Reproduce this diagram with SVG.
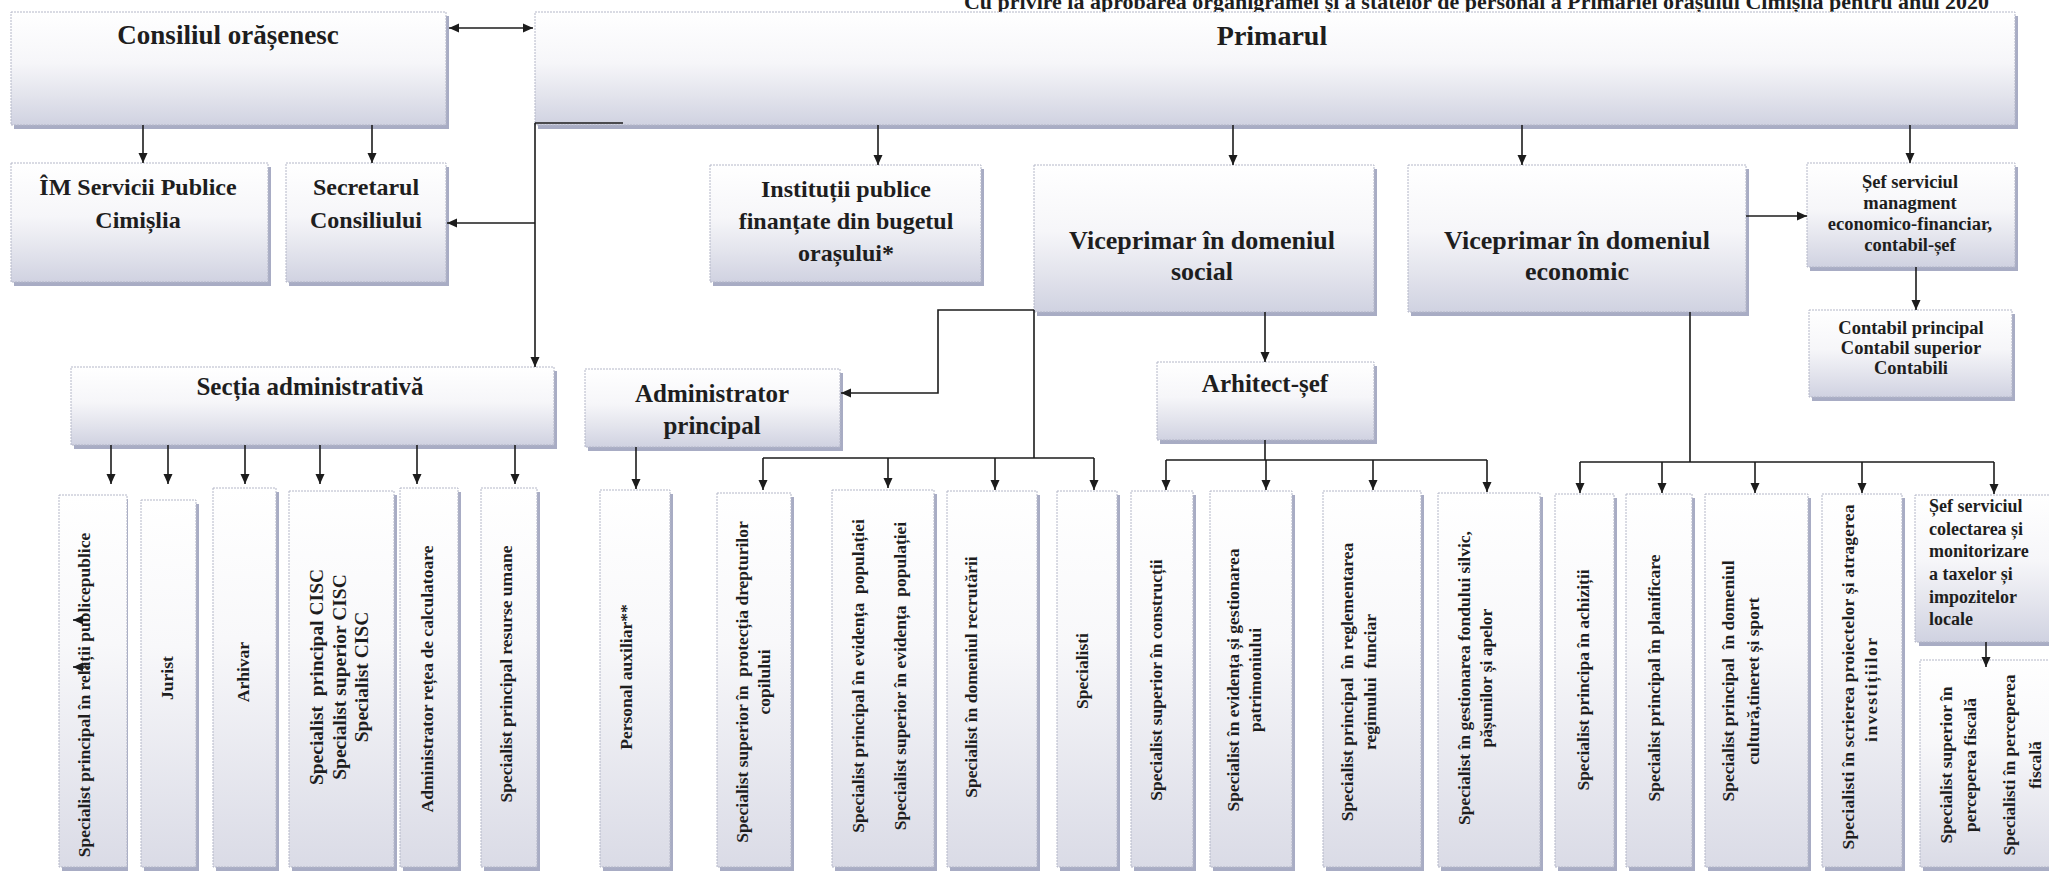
<svg xmlns="http://www.w3.org/2000/svg" width="2049" height="871" viewBox="0 0 2049 871">
<defs>
<linearGradient id="gb" x1="0" y1="0" x2="0" y2="1">
<stop offset="0" stop-color="#ffffff"/>
<stop offset="0.45" stop-color="#f6f6f9"/>
<stop offset="0.75" stop-color="#e2e3ec"/>
<stop offset="1" stop-color="#d0d2e1"/>
</linearGradient>
<linearGradient id="gt" x1="0" y1="0" x2="0" y2="1">
<stop offset="0" stop-color="#ffffff"/>
<stop offset="0.4" stop-color="#f8f8fa"/>
<stop offset="1" stop-color="#dadbe6"/>
</linearGradient>
<marker id="ah" viewBox="0 0 10 10" refX="10" refY="5" markerWidth="10" markerHeight="10" markerUnits="userSpaceOnUse" orient="auto-start-reverse">
<path d="M0,0.5 L10,5 L0,9.5 z" fill="#1c1c1c"/>
</marker>
</defs>
<style>
.box{fill:url(#gb);stroke:#b4b7c8;stroke-width:1;stroke-dasharray:2 1}
.tall{fill:url(#gt);stroke:#b4b7c8;stroke-width:1;stroke-dasharray:2 1}
.sh{fill:#a8acc4}
text{font-family:"Liberation Serif","Times New Roman",serif;font-weight:bold;fill:#1e1e1e}
.c{text-anchor:middle}
.r{font-size:17.5px;text-anchor:middle}
.l{stroke:#1c1c1c;stroke-width:1.6;fill:none}
.a{marker-end:url(#ah)}
</style>
<rect width="2049" height="871" fill="#ffffff"/>

<text id="title" x="964" y="9" font-size="21" textLength="1025" lengthAdjust="spacingAndGlyphs">Cu privire la aprobarea organigramei și a statelor de personal a Primariei orașului Cimișlia pentru anul 2020</text>

<g id="consiliul"><rect class="sh" x="14" y="16" width="435" height="113"/><rect class="box" x="11" y="12" width="435" height="113"/><text class="c" x="228" y="44" font-size="27">Consiliul orășenesc</text></g>
<g id="primarul"><rect class="sh" x="538" y="16" width="1480" height="113"/><rect class="box" x="535" y="12" width="1480" height="113"/><text class="c" x="1272" y="45" font-size="28">Primarul</text></g>
<g id="im"><rect class="sh" x="14" y="167" width="257" height="119"/><rect class="box" x="11" y="163" width="257" height="119"/><text class="c" x="138" font-size="24"><tspan x="138" y="195">ÎM Servicii Publice</tspan><tspan x="138" y="228">Cimișlia</tspan></text></g>
<g id="secretarul"><rect class="sh" x="289" y="167" width="160" height="119"/><rect class="box" x="286" y="163" width="160" height="119"/><text class="c" font-size="24"><tspan x="366" y="195">Secretarul</tspan><tspan x="366" y="228">Consiliului</tspan></text></g>
<g id="institutii"><rect class="sh" x="713" y="169" width="271" height="117"/><rect class="box" x="710" y="165" width="271" height="117"/><text class="c" font-size="24"><tspan x="846" y="197">Instituții publice</tspan><tspan x="846" y="229">finanțate din bugetul</tspan><tspan x="846" y="261">orașului*</tspan></text></g>
<g id="vice-social"><rect class="sh" x="1037" y="169" width="340" height="147"/><rect class="box" x="1034" y="165" width="340" height="147"/><text class="c" font-size="26"><tspan x="1202" y="249">Viceprimar în domeniul</tspan><tspan x="1202" y="280">social</tspan></text></g>
<g id="vice-economic"><rect class="sh" x="1411" y="169" width="338" height="147"/><rect class="box" x="1408" y="165" width="338" height="147"/><text class="c" font-size="26"><tspan x="1577" y="249">Viceprimar în domeniul</tspan><tspan x="1577" y="280">economic</tspan></text></g>
<g id="sef-economic"><rect class="sh" x="1810" y="167" width="208" height="104"/><rect class="box" x="1807" y="163" width="208" height="104"/><text class="c" font-size="18.5"><tspan x="1910" y="188">Șef serviciul</tspan><tspan x="1910" y="209">managment</tspan><tspan x="1910" y="230">economico-financiar,</tspan><tspan x="1910" y="251">contabil-șef</tspan></text></g>
<g id="contabil"><rect class="sh" x="1812" y="314" width="203" height="87"/><rect class="box" x="1809" y="310" width="203" height="87"/><text class="c" font-size="18.5"><tspan x="1911" y="334">Contabil principal</tspan><tspan x="1911" y="354">Contabil superior</tspan><tspan x="1911" y="374">Contabili</tspan></text></g>
<g id="sectia"><rect class="sh" x="74" y="371" width="483" height="78"/><rect class="box" x="71" y="367" width="483" height="78"/><text class="c" x="310" y="395" font-size="25">Secția administrativă</text></g>
<g id="administrator"><rect class="sh" x="588" y="373" width="255" height="78"/><rect class="box" x="585" y="369" width="255" height="78"/><text class="c" font-size="25"><tspan x="712" y="402">Administrator</tspan><tspan x="712" y="434">principal</tspan></text></g>
<g id="arhitect"><rect class="sh" x="1160" y="366" width="217" height="78"/><rect class="box" x="1157" y="362" width="217" height="78"/><text class="c" x="1265" y="392" font-size="25">Arhitect-șef</text></g>

<g id="relatii"><rect class="sh" x="62" y="499" width="66" height="372"/><rect class="tall" x="59" y="495" width="68" height="372"/><text class="r" transform="translate(90,695) rotate(-90)">Specialist principal în relații publicepublice</text></g>
<g id="jurist"><rect class="sh" x="144" y="504" width="55" height="367"/><rect class="tall" x="141" y="500" width="55" height="367"/><text class="r" transform="translate(173,678) rotate(-90)">Jurist</text></g>
<g id="arhivar"><rect class="sh" x="216" y="492" width="63" height="379"/><rect class="tall" x="213" y="488" width="63" height="379"/><text class="r" transform="translate(249,672) rotate(-90)">Arhivar</text></g>
<g id="cisc"><rect class="sh" x="292" y="495" width="105" height="376"/><rect class="tall" x="289" y="491" width="105" height="376"/><text class="c" font-size="19.5" transform="translate(323,677) rotate(-90)" xml:space="preserve"><tspan x="0" y="0">Specialist  principal CISC</tspan><tspan x="0" y="22.5">Specialist superior CISC</tspan><tspan x="0" y="45">Specialist CISC</tspan></text></g>
<g id="retea"><rect class="sh" x="403" y="492" width="58" height="379"/><rect class="tall" x="400" y="488" width="58" height="379"/><text class="r" transform="translate(433,679) rotate(-90)">Administrator rețea de calculatoare</text></g>
<g id="resurse"><rect class="sh" x="484" y="492" width="56" height="379"/><rect class="tall" x="481" y="488" width="56" height="379"/><text class="r" transform="translate(512,674) rotate(-90)">Specialist principal resurse umane</text></g>
<g id="personal"><rect class="sh" x="603" y="494" width="70" height="377"/><rect class="tall" x="600" y="490" width="70" height="377"/><text class="r" transform="translate(632,677) rotate(-90)">Personal auxiliar**</text></g>
<g id="protectia"><rect class="sh" x="720" y="497" width="74" height="374"/><rect class="tall" x="717" y="493" width="74" height="374"/><text class="r" transform="translate(748,682) rotate(-90)" xml:space="preserve"><tspan x="0" y="0">Specialist superior în  protecția drepturilor</tspan><tspan x="0" y="22">copilului</tspan></text></g>
<g id="evidenta"><rect class="sh" x="835" y="494" width="102" height="377"/><rect class="tall" x="832" y="490" width="102" height="377"/><text class="r" transform="translate(864,676) rotate(-90)" xml:space="preserve"><tspan x="0" y="0">Specialist principal în evidența  populației</tspan><tspan x="0" y="42">Specialist superior în evidența  populației</tspan></text></g>
<g id="recrutarii"><rect class="sh" x="950" y="495" width="90" height="376"/><rect class="tall" x="947" y="491" width="90" height="376"/><text class="r" transform="translate(977,677) rotate(-90)">Specialist în domeniul recrutării</text></g>
<g id="specialisti"><rect class="sh" x="1060" y="495" width="60" height="376"/><rect class="tall" x="1057" y="491" width="60" height="376"/><text class="r" transform="translate(1088,671) rotate(-90)">Specialisti</text></g>
<g id="constructii"><rect class="sh" x="1134" y="495" width="62" height="376"/><rect class="tall" x="1131" y="491" width="62" height="376"/><text class="r" transform="translate(1162,680) rotate(-90)">Specialist superior în construcții</text></g>
<g id="patrimoniu"><rect class="sh" x="1213" y="495" width="82" height="376"/><rect class="tall" x="1210" y="491" width="82" height="376"/><text class="r" transform="translate(1239,680) rotate(-90)"><tspan x="0" y="0">Specialist în evidența și gestionarea</tspan><tspan x="0" y="22">patrimoniului</tspan></text></g>
<g id="funciar"><rect class="sh" x="1326" y="495" width="98" height="376"/><rect class="tall" x="1323" y="491" width="98" height="376"/><text class="r" transform="translate(1353,682) rotate(-90)" xml:space="preserve"><tspan x="0" y="0">Specialist principal  în reglementarea</tspan><tspan x="0" y="23">regimului  funciar</tspan></text></g>
<g id="silvic"><rect class="sh" x="1441" y="497" width="102" height="374"/><rect class="tall" x="1438" y="493" width="102" height="374"/><text class="r" transform="translate(1470,678) rotate(-90)"><tspan x="0" y="0">Specialist în gestionarea fondului silvic,</tspan><tspan x="0" y="22">pășunilor și apelor</tspan></text></g>
<g id="achizitii"><rect class="sh" x="1558" y="498" width="59" height="373"/><rect class="tall" x="1555" y="494" width="59" height="373"/><text class="r" transform="translate(1589,680) rotate(-90)">Specialist principa în achiziții</text></g>
<g id="planificare"><rect class="sh" x="1629" y="498" width="66" height="373"/><rect class="tall" x="1626" y="494" width="66" height="373"/><text class="r" transform="translate(1660,678) rotate(-90)">Specialist principal în planificare</text></g>
<g id="cultura"><rect class="sh" x="1708" y="498" width="103" height="373"/><rect class="tall" x="1705" y="494" width="103" height="373"/><text class="r" transform="translate(1734,681) rotate(-90)" xml:space="preserve"><tspan x="0" y="0">Specialist principal  în domeniul</tspan><tspan x="0" y="25">cultură,tineret și sport</tspan></text></g>
<g id="investitii"><rect class="sh" x="1825" y="498" width="80" height="373"/><rect class="tall" x="1822" y="494" width="80" height="373"/><text class="r" transform="translate(1854,677) rotate(-90)" textLength="345" lengthAdjust="spacing">Specialisti în scrierea proiectelor și atragerea</text><text class="r" transform="translate(1877,690) rotate(-90)" textLength="104" lengthAdjust="spacing">investițiilor</text></g>
<g id="sef-colectare"><rect class="sh" x="1919" y="499" width="133" height="147"/><rect class="box" x="1915" y="495" width="137" height="147"/><text font-size="18"><tspan x="1929" y="512">Șef serviciul</tspan><tspan x="1929" y="535">colectarea și</tspan><tspan x="1929" y="557">monitorizare</tspan><tspan x="1929" y="580">a taxelor și</tspan><tspan x="1929" y="603">impozitelor</tspan><tspan x="1929" y="625">locale</tspan></text></g>
<g id="perceperea"><rect class="sh" x="1923" y="664" width="130" height="207"/><rect class="tall" x="1920" y="660" width="132" height="207"/><text class="r" font-size="18" transform="translate(1952,765) rotate(-90)"><tspan x="0" y="0">Specialist superior în</tspan><tspan x="0" y="24">perceperea fiscală</tspan><tspan x="0" y="63">Specialisti în perceperea</tspan><tspan x="0" y="89">fiscală</tspan></text></g>

<g id="connectors">
<path class="l a" d="M449,28 H533" marker-start="url(#ah)"/>
<path class="l a" d="M143,125 V163"/>
<path class="l a" d="M372,125 V163"/>
<path class="l" d="M623,123 H535"/>
<path class="l a" d="M535,123 V367"/>
<path class="l a" d="M535,223 H447"/>
<path class="l a" d="M878,125 V165"/>
<path class="l a" d="M1233,125 V165"/>
<path class="l a" d="M1522,125 V165"/>
<path class="l a" d="M1910,125 V163"/>
<path class="l a" d="M1746,216 H1807"/>
<path class="l a" d="M1916,267 V310"/>
<path class="l a" d="M1265,312 V362"/>
<path class="l a" d="M1034,310 H938 V393 H841"/>
<path class="l" d="M1034,310 V458 M763,458 H1094"/>
<path class="l a" d="M763,458 V490"/>
<path class="l a" d="M888,458 V488"/>
<path class="l a" d="M995,458 V490"/>
<path class="l a" d="M1094,458 V490"/>
<path class="l" d="M1265,440 V460 M1166,460 H1487"/>
<path class="l a" d="M1166,460 V490"/>
<path class="l a" d="M1266,460 V490"/>
<path class="l a" d="M1373,460 V490"/>
<path class="l a" d="M1487,460 V492"/>
<path class="l" d="M1690,312 V462 M1580,462 H1994"/>
<path class="l a" d="M1580,462 V493"/>
<path class="l a" d="M1662,462 V493"/>
<path class="l a" d="M1755,462 V493"/>
<path class="l a" d="M1862,462 V493"/>
<path class="l a" d="M1994,462 V494"/>
<path class="l a" d="M111,445 V484"/>
<path class="l a" d="M168,445 V484"/>
<path class="l a" d="M245,445 V484"/>
<path class="l a" d="M320,445 V484"/>
<path class="l a" d="M417,445 V484"/>
<path class="l a" d="M515,445 V484"/>
<path class="l a" d="M636,447 V489"/>
<path class="l a" d="M1986,642 V667"/>
<path class="l a" d="M90,620 H73"/>
<path class="l a" d="M90,667 H73"/>
</g>
</svg>
